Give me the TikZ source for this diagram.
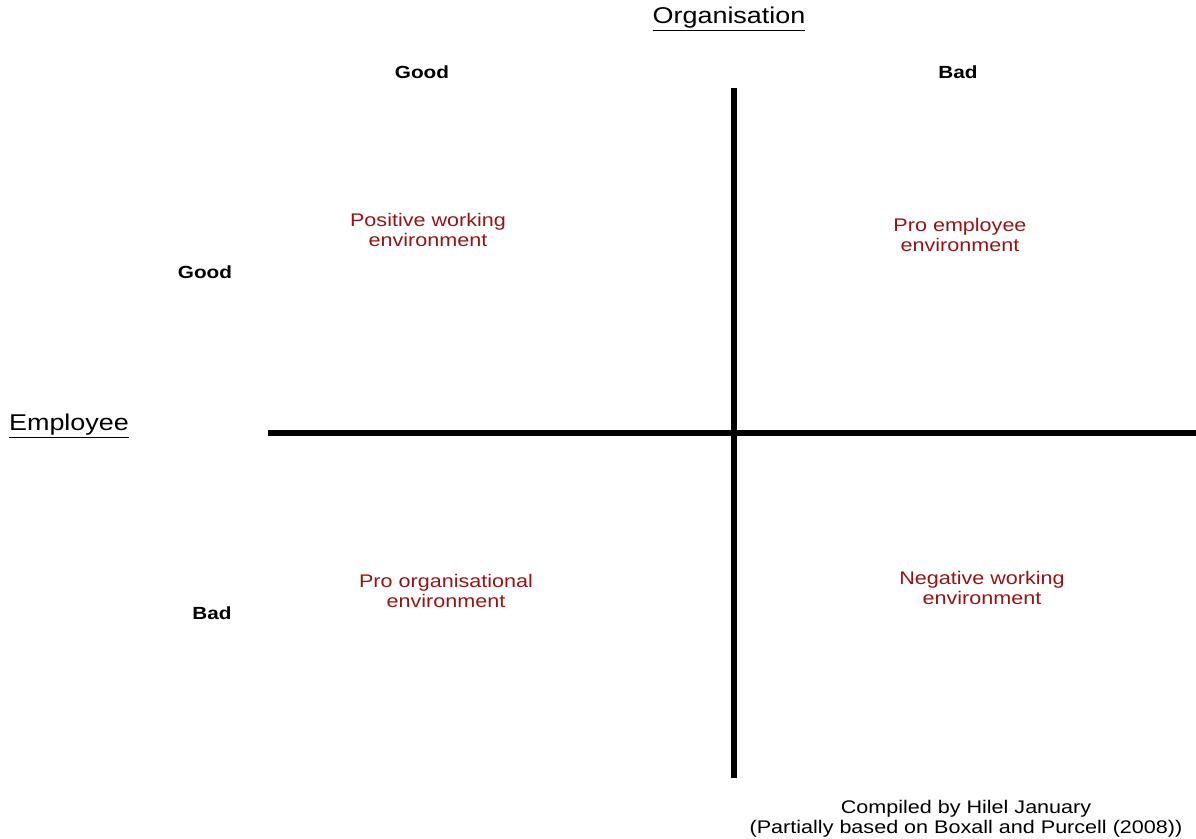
\documentclass[tikz,border=0pt]{standalone}
\usepackage{fontspec}
\setmainfont{Liberation Sans}[FakeStretch=1.18]
\usepackage{tikz}
\usetikzlibrary{positioning}
\definecolor{quad}{RGB}{150,20,20}

\tikzset{
  axistitle/.style={font=\fontsize{13}{14}\selectfont},
  level/.style={font=\fontsize{10}{11}\selectfont\bfseries},
  quadlabel/.style={font=\fontsize{10.4}{11.2}\selectfont,text=quad,align=center},
  credittext/.style={font=\fontsize{10.4}{11.2}\selectfont,align=center},
  axisline/.style={line width=3.2pt}
}

\begin{document}
\begin{tikzpicture}[x=0.02cm,y=-0.02cm]
  \useasboundingbox (0,0) rectangle (1196,838);
  % axes
  \coordinate (vtop) at (734,88); \coordinate (vbot) at (734,778);
  \coordinate (hleft) at (268,433); \coordinate (hright) at (1196,433);
  \draw[axisline] (vtop)--(vbot);
  \draw[axisline] (hleft)--(hright);
  % titles and levels
  \node[axistitle] (org) at (729,19) {\underline{Organisation}};
  \node[axistitle] (emp) at (69,426) {\underline{Employee}};
  \node[level] (orggood) at (422,72) {Good};
  \node[level] (orgbad) at (958,72) {Bad};
  \node[level] (empgood) at (205,272) {Good};
  \node[level] (empbad) at (212,613) {Bad};
  % quadrants
  \node[quadlabel] (qpos) at (428,230) {Positive working\\environment};
  \node[quadlabel] (qemp) at (960,235) {Pro employee\\environment};
  \node[quadlabel] (qorg) at (446,591) {Pro organisational\\environment};
  \node[quadlabel] (qneg) at (982,588) {Negative working\\environment};
  \node[credittext] (credit) at (966,819) {Compiled by Hilel January\\(Partially based on Boxall and Purcell (2008))};
\end{tikzpicture}
\end{document}
